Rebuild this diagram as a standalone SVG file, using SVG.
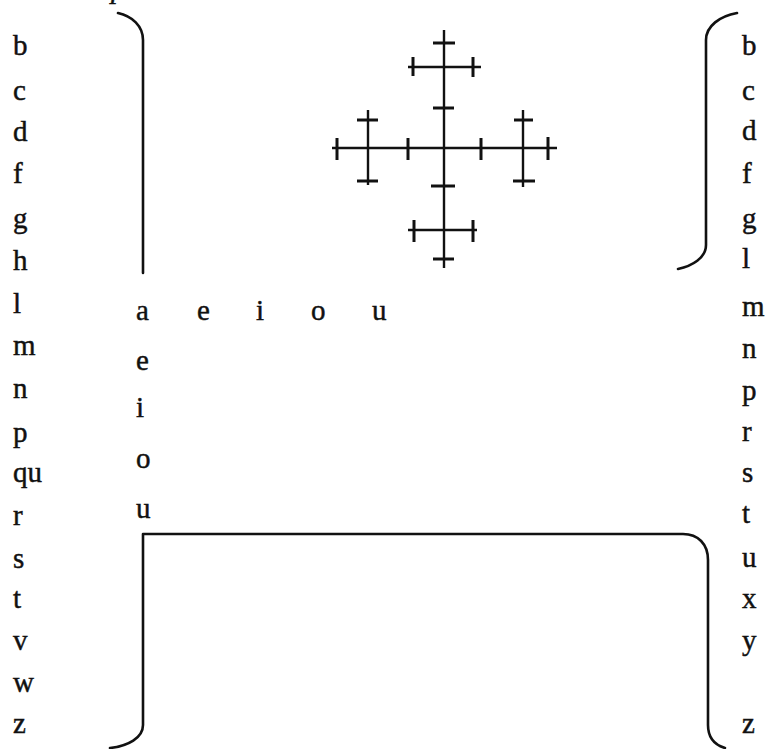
<svg xmlns="http://www.w3.org/2000/svg" width="768" height="749" viewBox="0 0 768 749">
  <style>
    text { font-family: "Liberation Serif", "DejaVu Serif", serif; font-size: 29px; fill: #111; stroke: #111; stroke-width: 0.45; }
    .it { font-style: italic; }
    .br { fill: none; stroke: #111; stroke-width: 2.6; stroke-linecap: round; stroke-linejoin: round; }
    .bar { stroke: #111; stroke-width: 2.4; stroke-linecap: butt; }
    .tick { stroke: #111; stroke-width: 3; stroke-linecap: butt; }
  </style>
  <rect width="768" height="749" fill="#fff"/>

  <!-- fragment of the heading line above -->
  <text class="it" x="111" y="-2">p</text>

  <!-- left consonant column -->
  <g id="left-column">
    <text x="13" y="55">b</text>
    <text x="13" y="100">c</text>
    <text x="13" y="141">d</text>
    <text x="13" y="183">f</text>
    <text x="13" y="228">g</text>
    <text x="13" y="270">h</text>
    <text x="13" y="313">l</text>
    <text x="13" y="355">m</text>
    <text x="13" y="398">n</text>
    <text x="13" y="442">p</text>
    <text x="13" y="482">qu</text>
    <text x="13" y="525">r</text>
    <text x="13" y="568">s</text>
    <text x="13" y="608">t</text>
    <text x="13" y="650">v</text>
    <text x="13" y="692">w</text>
    <text x="13" y="733">z</text>
  </g>

  <!-- right consonant column -->
  <g id="right-column">
    <text x="742" y="55">b</text>
    <text x="742" y="100">c</text>
    <text x="742" y="140">d</text>
    <text x="742" y="183">f</text>
    <text x="742" y="228">g</text>
    <text x="742" y="268">l</text>
    <text x="742" y="316">m</text>
    <text x="742" y="358">n</text>
    <text x="742" y="400">p</text>
    <text x="742" y="441">r</text>
    <text x="742" y="482">s</text>
    <text x="742" y="523">t</text>
    <text x="742" y="567">u</text>
    <text x="742" y="608">x</text>
    <text x="742" y="650">y</text>
    <text x="742" y="733">z</text>
  </g>

  <!-- vowel row -->
  <g id="vowel-row">
    <text x="136" y="320">a</text>
    <text x="197" y="320">e</text>
    <text x="256" y="320">i</text>
    <text x="311" y="320">o</text>
    <text x="372" y="320">u</text>
  </g>

  <!-- vowel column -->
  <g id="vowel-column">
    <text x="136" y="370">e</text>
    <text x="136" y="417">i</text>
    <text x="136" y="468">o</text>
    <text x="136" y="518">u</text>
  </g>

  <!-- brackets -->
  <g id="brackets">
    <path class="br" d="M118,13 C132,16 143,26 143,40 V273"/>
    <path class="br" d="M737,13 C720,16 706,26 706,40 V245 C706,258 692,266 678,269"/>
    <path class="br" d="M110,748 C128,746 143,738 143,725 V534 H683 C698,534 708,544 708,560 V725 C708,738 715,745 725,748"/>
  </g>

  <!-- cross figure -->
  <g id="cross">
    <!-- main arms -->
    <line class="bar" x1="332" y1="148" x2="557" y2="148"/>
    <line class="bar" x1="444" y1="30" x2="444" y2="268"/>
    <!-- ticks on the main arms -->
    <line class="tick" x1="433" y1="43" x2="455" y2="43"/>
    <line class="tick" x1="433" y1="108" x2="454" y2="108"/>
    <line class="tick" x1="431" y1="186" x2="455" y2="186"/>
    <line class="tick" x1="433" y1="259" x2="454" y2="259"/>
    <line class="tick" x1="337" y1="138" x2="337" y2="160"/>
    <line class="tick" x1="408" y1="138" x2="408" y2="160"/>
    <line class="tick" x1="481" y1="138" x2="481" y2="160"/>
    <line class="tick" x1="548" y1="137" x2="548" y2="160"/>
    <!-- upper cross -->
    <line class="bar" x1="408" y1="67" x2="481" y2="67"/>
    <line class="tick" x1="413" y1="57" x2="413" y2="76"/>
    <line class="tick" x1="473" y1="57" x2="473" y2="77"/>
    <!-- lower cross -->
    <line class="bar" x1="408" y1="230" x2="477" y2="230"/>
    <line class="tick" x1="414" y1="220" x2="414" y2="242"/>
    <line class="tick" x1="473" y1="220" x2="473" y2="242"/>
    <!-- left cross -->
    <line class="bar" x1="368" y1="110" x2="368" y2="185"/>
    <line class="tick" x1="357" y1="120" x2="378" y2="120"/>
    <line class="tick" x1="357" y1="181" x2="378" y2="181"/>
    <!-- right cross -->
    <line class="bar" x1="523" y1="110" x2="523" y2="187"/>
    <line class="tick" x1="514" y1="120" x2="533" y2="120"/>
    <line class="tick" x1="513" y1="181" x2="535" y2="181"/>
  </g>
</svg>
